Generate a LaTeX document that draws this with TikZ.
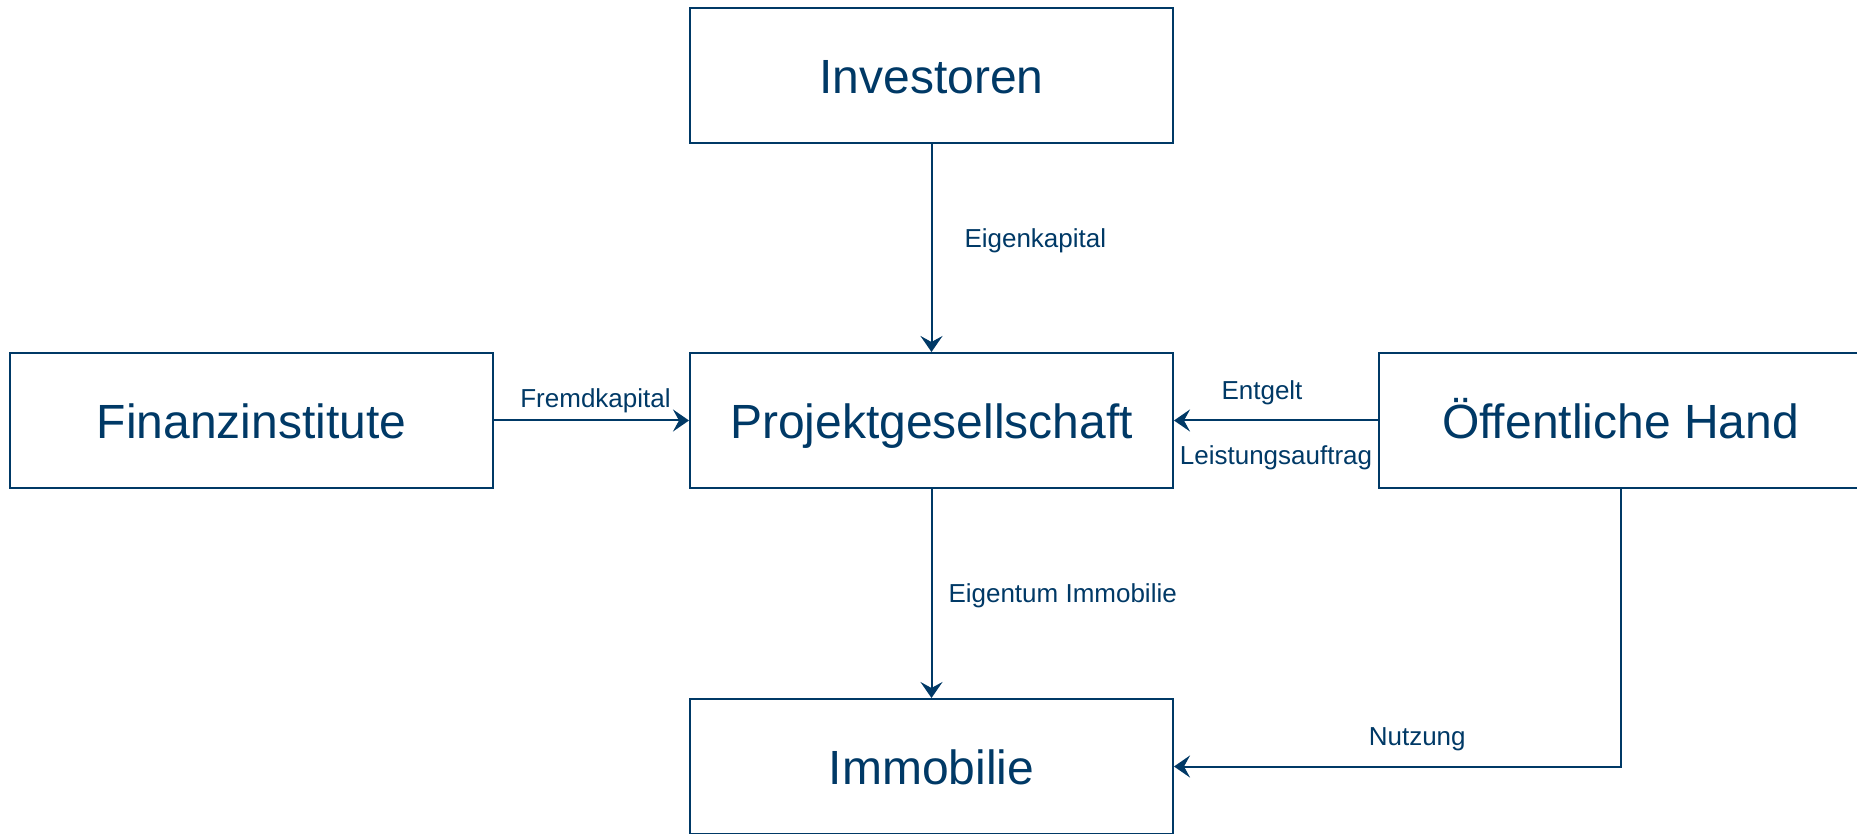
\documentclass[tikz,border=0pt]{standalone}
\usepackage{fontspec}
\setmainfont{Liberation Sans}
\usetikzlibrary{matrix,arrows.meta}
\definecolor{ppnavy}{RGB}{0,57,102}
\newcommand\partner[2]{\node(#1)[partner]{#2};}

\begin{document}
\begin{tikzpicture}[
    partner/.style={draw=ppnavy,line width=1pt,minimum width=241.5pt,minimum height=67.5pt,
        inner sep=0pt,text height=22pt,text depth=4pt,text=ppnavy,font=\fontsize{24}{28}\selectfont},
    flow/.style={draw=ppnavy,line width=1pt,-{Stealth[length=8pt,width=11pt,inset=3pt]}},
    lbl/.style={text=ppnavy,inner sep=0pt,font=\fontsize{13}{15}\selectfont}]
    \matrix(pp)[row sep=104pt,column sep=97.5pt] {
                                 & \partner{inv}{Investoren}          &[4.5pt]                           \\
 \partner{fi}{Finanzinstitute}   & \partner{pg}{Projektgesellschaft}  &[4.5pt] \partner{oh}{Öffentliche Hand} \\[0.5pt]
                                 & \partner{imm}{Immobilie}           &[4.5pt]                           \\
    };
    \draw[flow] (inv) -- (pg) node[lbl,midway,anchor=base west,xshift=16pt]{Eigenkapital};
    \draw[flow] (fi) -- (pg) node[lbl,midway,anchor=base,xshift=2pt,yshift=6.5pt]{Fremdkapital};
    \draw[flow] (oh) -- (pg) node[lbl,midway,anchor=base,xshift=-7pt,yshift=10.5pt]{Entgelt}
                             node[lbl,midway,anchor=base,yshift=-22pt]{Leistungsauftrag};
    \draw[flow] (pg) -- (imm) node[lbl,midway,anchor=base west,xshift=8pt,yshift=-4.5pt]{Eigentum Immobilie};
    \draw[flow] (oh) |- (imm) node[lbl,pos=0.75,anchor=base,xshift=10pt,yshift=10.5pt]{Nutzung};
    \pgfresetboundingbox
    \useasboundingbox ([xshift=-4.5pt,yshift=3.5pt]fi.west |- inv.north) rectangle ++(928.5pt,-417pt);
\end{tikzpicture}
\end{document}
